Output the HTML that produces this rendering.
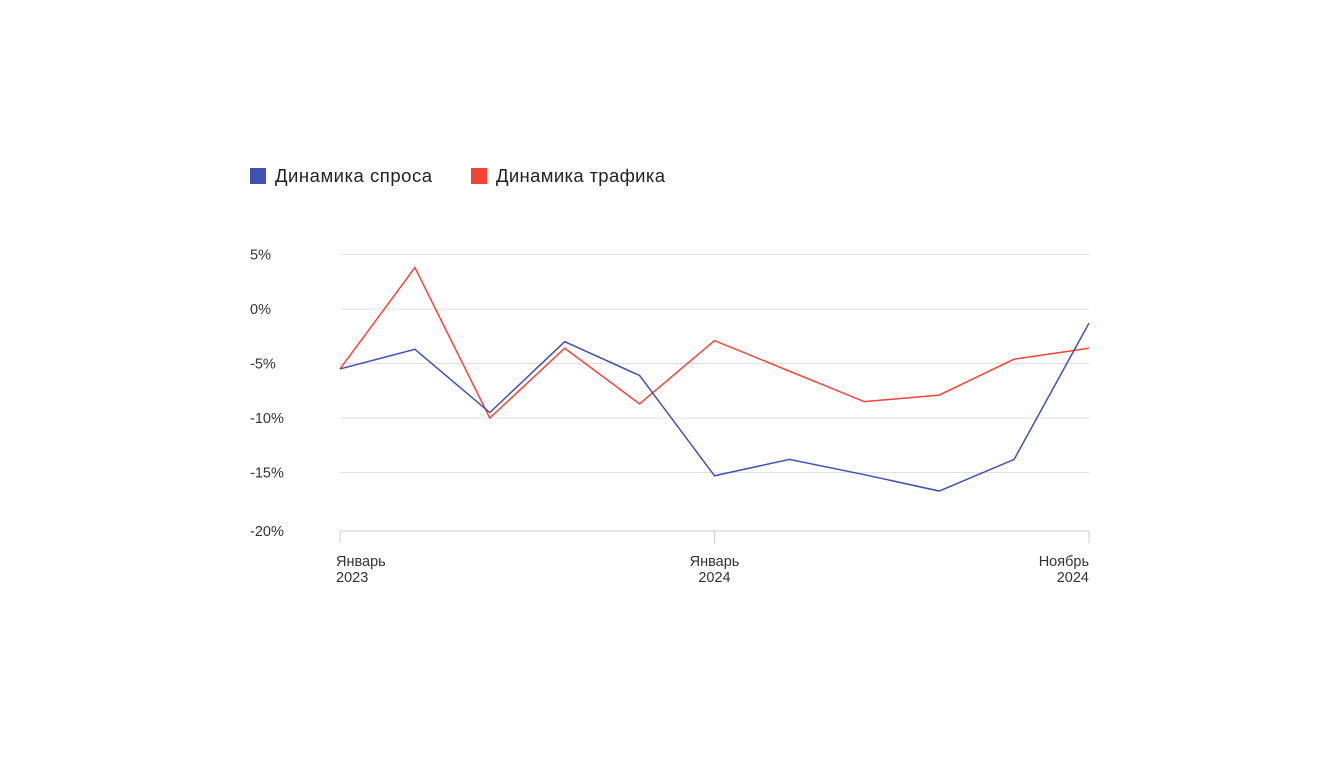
<!DOCTYPE html>
<html><head><meta charset="utf-8"><style>
body{margin:0;background:#fff;width:1340px;height:753px;overflow:hidden;font-family:"Liberation Sans",sans-serif;}
</style></head><body>
<svg width="1340" height="753">
<g>
<rect x="250" y="168" width="16" height="16" fill="#3f51b5"/>
<text x="275" y="182" font-size="18.5" fill="#222" textLength="157">Динамика спроса</text>
<rect x="471" y="168" width="16" height="16" fill="#f44336"/>
<text x="496" y="182" font-size="18.5" fill="#222" textLength="169">Динамика трафика</text>
</g>
<g id="grid"></g><g id="series"></g><g id="xaxis"></g>
</svg>
<script>
const categories=["Янв 2023","","","","","Янв 2024","","","","","Ноя 2024"];
const xTickLabels=[["Январь","2023"],null,null,null,null,["Январь","2024"],null,null,null,null,["Ноябрь","2024"]];
const demand=[-5.5,-3.7,-9.5,-3.0,-6.1,-15.3,-13.8,-15.2,-16.7,-13.8,-1.3];
const traffic=[-5.5,3.8,-10.0,-3.6,-8.7,-2.9,-5.7,-8.5,-7.9,-4.6,-3.6];
const yTicks=[5,0,-5,-10,-15,-20];
const NS="http://www.w3.org/2000/svg";
const x0=340,x1=1089;
function xs(i){return x0+(x1-x0)*i/(categories.length-1);}
function ys(v){return 309-v*10.9;}
function mk(t,a,p){const e=document.createElementNS(NS,t);for(const k in a)e.setAttribute(k,a[k]);p.appendChild(e);return e;}
const g=document.getElementById('grid');
yTicks.forEach(v=>{
  const y=v===-20?531:ys(v);
  const l=mk('line',{x1:x0,x2:x1,y1:y,y2:y,stroke:v===-20?'#ccc':'#e0e0e0','stroke-width':1},g);
  
  
  const t=mk('text',{x:250,y:y+5,'font-size':14.5,fill:'#333','text-anchor':'start'},g);
  t.textContent=v+'%';
  
  
});
const xa=document.getElementById('xaxis');
xTickLabels.forEach((lb,i)=>{
  if(!lb)return;
  const x=xs(i);
  const tk=mk('line',{x1:x,x2:x,y1:531,y2:543,stroke:'#ccc'},xa);
  
  
  const anchor=i===0?'start':(i===categories.length-1?'end':'middle');
  const xx=i===0?x-4:x;
  lb.forEach((s,j)=>{
    const t=mk('text',{x:xx,y:566+j*16,'font-size':14.5,fill:'#333','text-anchor':anchor},xa);
    t.textContent=s;
    
    
  });
});
const sg=document.getElementById('series');
[[traffic,'#f44336','traffic-line'],[demand,'#3f51b5','demand-line']].forEach(([d,c,n])=>{
  const p=mk('polyline',{points:d.map((v,i)=>xs(i)+','+ys(v)).join(' '),fill:'none',stroke:c,'stroke-width':1.5},sg);
  
  
});
</script>
</body></html>
